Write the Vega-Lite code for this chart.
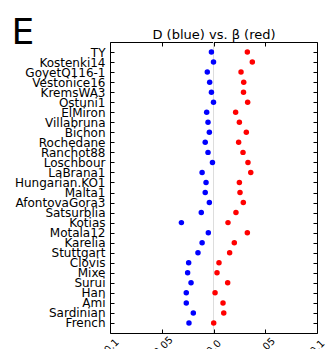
{
  "$schema": "https://vega.github.io/schema/vega-lite/v6.json",
  "autosize": "none",
  "width": 207,
  "height": 291,
  "padding": {"left": 110, "top": 42, "right": 9, "bottom": 16},
  "background": "white",
  "config": {
    "font": "DejaVu Sans",
    "view": {"stroke": "black", "strokeWidth": 1},
    "axis": {"grid": false, "domain": false, "tickColor": "black", "labelColor": "black", "titleColor": "black"}
  },
  "data": {"values": [
    {"sample": "TY", "D": -0.002, "beta": 0.0327},
    {"sample": "Kostenki14", "D": 0.0, "beta": 0.0375},
    {"sample": "GoyetQ116-1", "D": -0.006, "beta": 0.0266},
    {"sample": "Vestonice16", "D": -0.0037, "beta": 0.0292},
    {"sample": "KremsWA3", "D": -0.002, "beta": 0.029},
    {"sample": "Ostuni1", "D": 0.0, "beta": 0.033},
    {"sample": "ElMiron", "D": -0.0066, "beta": 0.0214},
    {"sample": "Villabruna", "D": -0.0053, "beta": 0.025},
    {"sample": "Bichon", "D": -0.004, "beta": 0.0317},
    {"sample": "Rochedane", "D": -0.008, "beta": 0.0243},
    {"sample": "Ranchot88", "D": -0.0053, "beta": 0.0285},
    {"sample": "Loschbour", "D": -0.001, "beta": 0.0333},
    {"sample": "LaBrana1", "D": -0.011, "beta": 0.036},
    {"sample": "Hungarian.KO1", "D": -0.0072, "beta": 0.025},
    {"sample": "Malta1", "D": -0.008, "beta": 0.0256},
    {"sample": "AfontovaGora3", "D": -0.004, "beta": 0.0288},
    {"sample": "Satsurblia", "D": -0.0118, "beta": 0.0217},
    {"sample": "Kotias", "D": -0.031, "beta": 0.014},
    {"sample": "Motala12", "D": -0.005, "beta": 0.0327},
    {"sample": "Karelia", "D": -0.011, "beta": 0.0201},
    {"sample": "Stuttgart", "D": -0.015, "beta": 0.0156},
    {"sample": "Clovis", "D": -0.024, "beta": 0.0053},
    {"sample": "Mixe", "D": -0.025, "beta": 0.0034},
    {"sample": "Surui", "D": -0.0217, "beta": 0.0137},
    {"sample": "Han", "D": -0.0263, "beta": 0.0015},
    {"sample": "Ami", "D": -0.0263, "beta": 0.0092},
    {"sample": "Sardinian", "D": -0.0195, "beta": 0.0099},
    {"sample": "French", "D": -0.0237, "beta": 0.0002}
  ]},
  "resolve": {"axis": {"x": "independent", "y": "independent"}},
  "layer": [
    {
      "mark": {"type": "rule", "color": "#dddddd", "strokeWidth": 1},
      "encoding": {
        "x": {"datum": 0, "type": "quantitative", "scale": {"domain": [-0.1, 0.1]},
          "axis": {"orient": "top", "labels": false, "values": [-0.1, -0.05, 0, 0.05, 0.1], "tickSize": -4,
            "title": "D (blue) vs. β (red)", "titleFontSize": 13, "titleFontWeight": "normal", "titleFont": "DejaVu Sans", "titleBaseline": "alphabetic", "titlePadding": 3}}
      }
    },
    {
      "mark": {"type": "point", "filled": true, "color": "#0000ff", "size": 30, "opacity": 1},
      "encoding": {
        "x": {"field": "D", "type": "quantitative", "scale": {"domain": [-0.1, 0.1]},
          "axis": {"orient": "bottom", "title": null, "values": [-0.1, -0.05, 0, 0.05, 0.1], "tickSize": -4,
            "labelAngle": -45, "labelAlign": "center", "labelBaseline": "middle", "labelPadding": 18, "labelFontSize": 10,
            "labelExpr": "datum.value == 0 ? '0.0' : replace(format(datum.value, '.2~f'), '−', '-')"}},
        "y": {"field": "sample", "type": "nominal", "sort": null, "scale": {"type": "point", "padding": 1},
          "axis": {"orient": "left", "tickSize": -4, "labelPadding": 9, "labelFontSize": 12,
            "title": "E", "titleAngle": 0, "titleAlign": "left", "titleBaseline": "alphabetic", "titleX": -99, "titleY": 1, "titleFontSize": 36, "titleFontWeight": "normal", "titleFont": "DejaVu Sans"}}
      }
    },
    {
      "mark": {"type": "point", "filled": true, "color": "#ff0000", "size": 30, "opacity": 1},
      "encoding": {
        "x": {"field": "beta", "type": "quantitative", "scale": {"domain": [-0.1, 0.1]}, "axis": null},
        "y": {"field": "sample", "type": "nominal", "sort": null, "scale": {"type": "point", "padding": 1},
          "axis": {"orient": "right", "title": null, "labels": false, "tickSize": -4}}
      }
    }
  ]
}
